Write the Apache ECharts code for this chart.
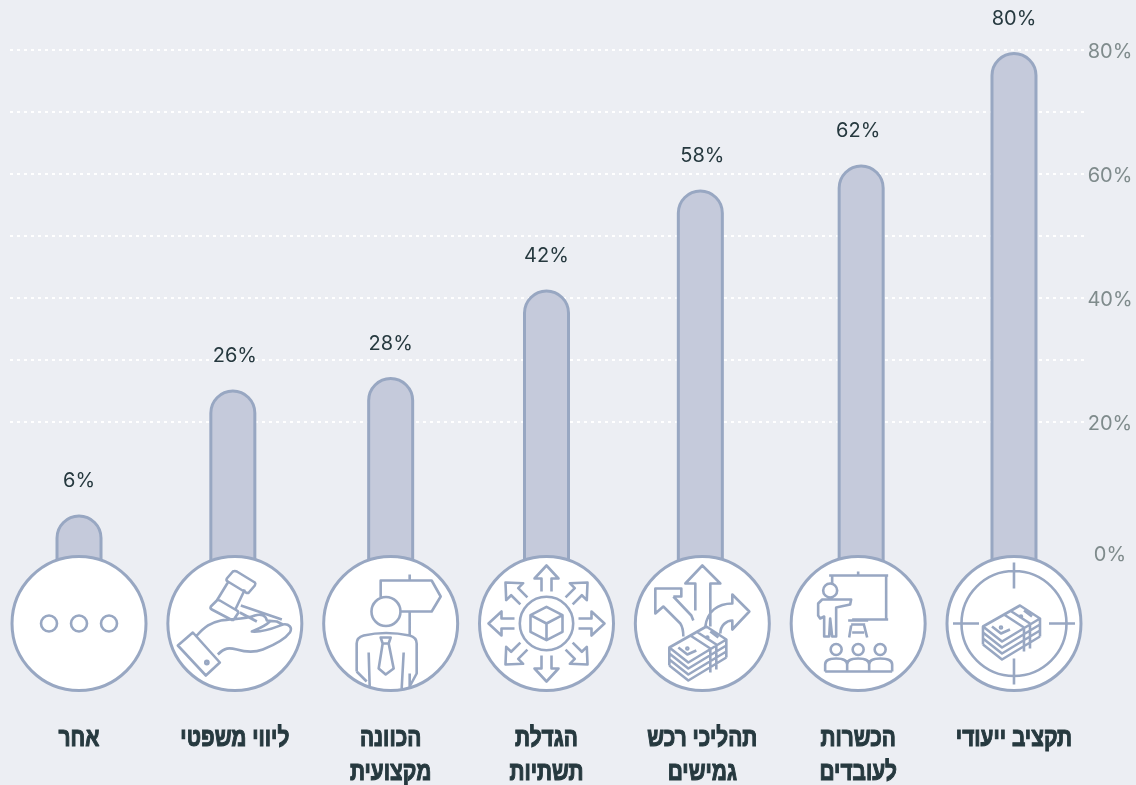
<!DOCTYPE html>
<html lang="he">
<head>
<meta charset="utf-8">
<title>chart</title>
<script src="https://cdn.jsdelivr.net/npm/echarts@6/dist/echarts.min.js"></script>
<style>
  html, body { margin: 0; padding: 0; background: #eceef3; }
  #chart { width: 1136px; height: 785px; }
</style>
</head>
<body>
<div id="chart"></div>
<script>
const categories = ['אחר', 'ליווי משפטי', 'הכוונה\nמקצועית', 'הגדלת\nתשתיות', 'תהליכי רכש\nגמישים', 'הכשרות\nלעובדים', 'תקציב ייעודי'];
const values = [6, 26, 28, 42, 58, 62, 80];
const gridTicks = [10, 20, 30, 40, 50, 60, 70, 80];
const gridLabels = [20, 40, 60, 80];

const LINE = '#98a7c2';
const FILL = '#c5cadb';
const TEXT = '#26393f';

// icons are plain line drawings around the circle centre
const circ = (x, y, r) => `M${x - r} ${y}a${r} ${r} 0 1 0 ${2 * r} 0a${r} ${r} 0 1 0 ${-2 * r} 0`;

function moneyPath(dx, dy) {
    const p = (x, y) => `${x + dx} ${y + dy}`;
    let d = `M${p(-33, 24)}L${p(4, 3)}L${p(24, 16)}L${p(-14, 39)}Z`;
    [6, 12, 18].forEach(o => {
        d += `M${p(-33, 24 + o)}L${p(-14, 39 + o)}L${p(24, 16 + o)}`;
    });
    d += `M${p(-33, 24)}L${p(-33, 42)}M${p(24, 16)}L${p(24, 34)}`;
    d += `M${p(-12, 12)}L${p(8, 25)}L${p(8, 49)}M${p(-6, 8)}L${p(14, 21)}L${p(14, 46)}`;
    d += `M${p(-24, 24)}L${p(-15, 31)}L${p(-6, 27)}M${p(8, 8)}L${p(16, 14)}`;
    d += circ(-15 + dx, 25 + dy, 1) + circ(5 + dx, 14 + dy, 1);
    return d;
}

const arrowPath = 'M-5-32V-45H-12L0-58L12-45H5V-32';

const iconPaths = [
    // dots
    [circ(-30, 0, 8) + circ(0, 0, 8) + circ(30, 0, 8)],
    // gavel on a hand
    ['M-8-45L-2-52Q0-53 2-52L20-41Q21-40 20-38L14-31Q13-30 11-31L-7-42Q-9-43-8-45Z' +
     'M-24-17L-18-23Q-17-24-15-23L2-13Q4-12 3-10L-1-4Q-2-3-4-4L-23-14Q-25-15-24-17Z' +
     'M-7-41L-18-23M10-34L0-13M6-18L47-4M5-11L22-2' +
     'M-57 22L-42 9L-15 39L-29 52Z' + circ(-28, 39, 1.6) +
     'M-38 12C-30 3-24-1-14-3C-2-5 10-4 20-8C26-10 31-8 32-3L42-2L48 1' +
     'M-17 31C-10 24-6 24 2 26C12 29 20 29 28 26C38 22 50 16 55 9C58 4 54 0 48 1C40 4 30 9 17 8C24 5 30 3 35-2'],
    // person and signpost
    ['M-10-25V-43H41L50-27L41-12H9' + circ(-4.7, -12, 14.5) +
     'M19-49V-43M19-12V13' +
     'M-34 48V20Q-34 14-27 12Q-5 7 19 12Q26 14 26 20V50L19 63' +
     'M-34 48L-24 58M-22 29L-21 63M13 29L11 65M19 50V65' +
     'M-10 14H0L-2 20H-8ZM-8 20L-12 45L-5 51L3 45L-2 20'],
    // box with arrows around it
    [circ(0, 0, 26.7) +
     'M0-16.7L16-8.3V8.3L0 16.7L-16 8.3V-8.3ZM-16-8.3L0 0L16-8.3M0 0V16.7'],
    // three arrows from a stack of money
    ['M-7-13V-40H-17L0-58L18-40H8V3' +
     'M-29-27H-21V-35H-47V-10L-39-17L-22 0C-20 3-19 8-19 13M-29-27L-11-8L-9-3' +
     'M3 3C5-12 15-20 30-20V-29L47-12L30 6V-3C24-3 18 2 18 10' +
     moneyPath(0, 0)],
    // trainer and audience
    ['M-29-48H30M28-48V-4M-6-4H30M-26-48V-40M0-52V-48' +
     'M-10-3H10M-7 1H7M-7 2L-9 14M6 2L9 14M-6 9H6' + circ(-28, -33, 7) +
     'M-36-24L-40-20V-8L-38-5L-34-7V13H-29L-28-5L-26 13H-22V-16L-8-19L-7-24Z' +
     circ(-22, 26, 5.5) + circ(0, 26, 5.5) + circ(22, 26, 5.5) +
     'M-33 48V41Q-33 35-22 35Q-11 35-11 41V48M-11 41Q-11 35 0 35Q11 35 11 41V48' +
     'M11 41Q11 35 22 35Q34 35 34 41V48M-33 48H34'],
    // money in a crosshair
    [circ(0, 0, 52.5) + 'M0-61V-35M0 35V61M-61 0H-35M35 0H61' + moneyPath(2, -21)]
];

const iconLine = { fill: 'none', stroke: LINE, lineWidth: 2.6, lineJoin: 'round' };
// vertical place of the icon row on the bar scale, and where the bars end behind it
const iconRow = -11.2;
const barBase = -6;
// the bars are not quite centred over their circles in the original
const barShift = [0, -2, 0, 0, -2, 3, 0];

function renderIcon(params, api) {
    const c = api.coord([api.value(0), api.value(1)]);
    const i = params.dataIndex;
    const children = [{
        type: 'circle',
        shape: { cx: 0, cy: 0, r: 67 },
        style: { fill: '#fff', stroke: LINE, lineWidth: 3 }
    }];
    iconPaths[i].forEach(d => {
        children.push({ type: 'path', shape: { pathData: d }, style: iconLine });
    });
    if (i === 3) {
        for (let k = 0; k < 8; k++) {
            children.push({
                type: 'path',
                rotation: k * Math.PI / 4,
                shape: { pathData: arrowPath },
                style: iconLine
            });
        }
    }
    // category name, squeezed because no condensed Hebrew face is installed
    children.push({
        type: 'text',
        y: 98,
        scaleX: 0.87,
        scaleY: 1.12,
        style: {
            text: categories[i],
            align: 'center',
            verticalAlign: 'top',
            font: 'bold 24px "Liberation Sans", sans-serif',
            lineHeight: 30.4,
            fill: TEXT,
            stroke: TEXT,
            lineWidth: 1
        }
    });
    return { type: 'group', x: c[0], y: c[1], children: children };
}

function renderBar(params, api) {
    const i = api.value(0);
    const v = api.value(1);
    const top = api.coord([i, v]);
    const bottom = api.coord([i, barBase]);
    return {
        type: 'group',
        children: [
            {
                type: 'rect',
                shape: { x: top[0] - 22 + barShift[i], y: top[1], width: 44, height: bottom[1] - top[1], r: [22, 22, 0, 0] },
                style: { fill: FILL, stroke: LINE, lineWidth: 3 }
            },
            {
                type: 'text',
                style: {
                    text: v + '%',
                    x: top[0],
                    y: top[1] - 35,
                    align: 'center',
                    verticalAlign: 'middle',
                    fill: TEXT,
                    font: '20px Inter, sans-serif'
                }
            }
        ]
    };
}

const axisLabelRich = {
    t: { color: '#7f8b8c', fontFamily: 'Inter, sans-serif', fontSize: 20, padding: [3, 0, 0, 0] }
};

const chart = echarts.init(document.getElementById('chart'));

chart.setOption({
    backgroundColor: '#eceef3',
    animation: false,
    grid: [
        // dotted guide lines
        { left: 10, width: 1074, top: 50, height: 496, outerBoundsMode: 'none' },
        // bars and icons
        { left: 1.1, width: 1090.8, top: 53.5, height: 625, outerBoundsMode: 'none' }
    ],
    xAxis: [
        { type: 'category', gridIndex: 0, show: false, data: categories },
        { type: 'category', gridIndex: 1, show: false, data: categories }
    ],
    yAxis: [
        {
            type: 'value',
            gridIndex: 0,
            position: 'right',
            min: 0,
            max: 80,
            interval: 10,
            axisLine: { show: false },
            axisTick: { show: false, customValues: gridTicks },
            axisLabel: {
                customValues: gridLabels,
                margin: 26,
                align: 'center',
                rich: axisLabelRich,
                formatter: '{t|{value}%}'
            },
            splitLine: { show: true, showMinLine: false, lineStyle: { color: '#fff', width: 2, type: [3, 4] } }
        },
        {
            type: 'value',
            gridIndex: 1,
            position: 'right',
            min: -20,
            max: 80,
            interval: 20,
            axisLine: { show: false },
            axisTick: { show: false },
            splitLine: { show: false },
            axisLabel: {
                customValues: [0],
                margin: 18,
                align: 'center',
                rich: axisLabelRich,
                formatter: '{t|{value}%}'
            }
        }
    ],
    series: [
        {
            type: 'custom',
            xAxisIndex: 1,
            yAxisIndex: 1,
            data: values.map((v, i) => [i, v]),
            encode: { x: 0, y: 1 },
            renderItem: renderBar,
            clip: false,
            z: 2
        },
        {
            type: 'custom',
            xAxisIndex: 1,
            yAxisIndex: 1,
            data: categories.map((c, i) => [i, iconRow]),
            encode: { x: 0, y: 1 },
            renderItem: renderIcon,
            clip: false,
            z: 3
        }
    ]
});

window.addEventListener('resize', () => chart.resize());
</script>
</body>
</html>
